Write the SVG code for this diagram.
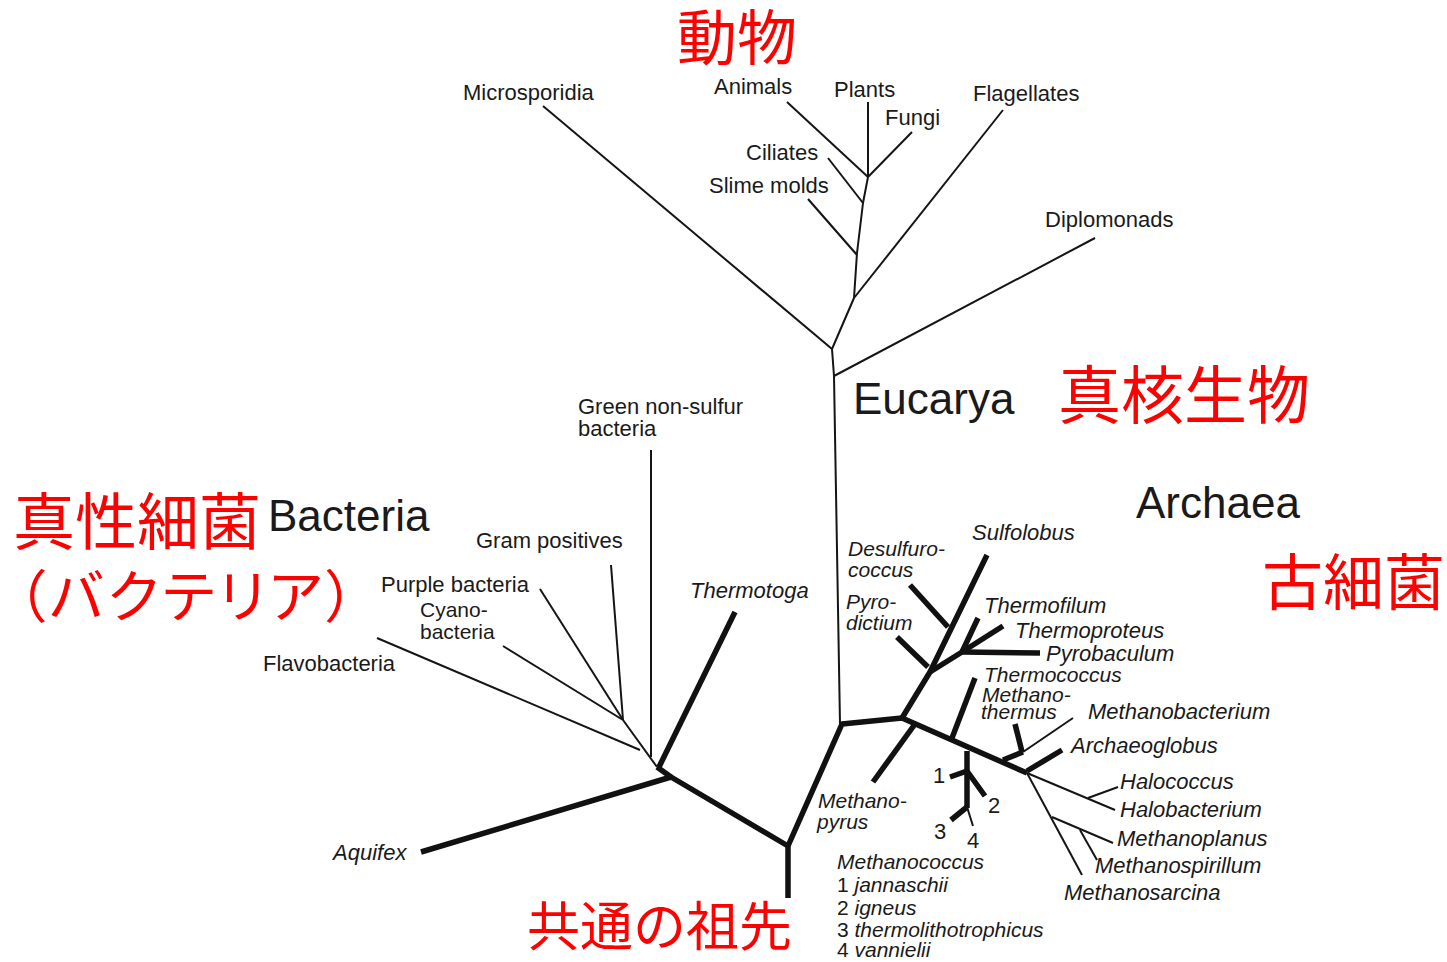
<svg xmlns="http://www.w3.org/2000/svg" width="1447" height="962" viewBox="0 0 1447 962">
<style>
  .thin{fill:none;stroke:#151515;stroke-width:2;stroke-linejoin:round}
  .thick{fill:none;stroke:#111;stroke-width:5.5;stroke-linejoin:round}
  .lb{font-family:"Liberation Sans",Arial,sans-serif;font-size:22px;fill:#1a1a1a}
  .sm{font-size:21px}
  .it{font-style:italic}
  .big{font-family:"Liberation Sans",Arial,sans-serif;font-size:44px;fill:#1a1a1a}
  .jp{font-family:"Noto Sans CJK JP","Noto Sans CJK SC",sans-serif;fill:#ff0000}
  .palt{font-feature-settings:"palt" 1;letter-spacing:4px}
</style>
<rect width="1447" height="962" fill="#ffffff"/>
<g id="connectors">
  <path class="thick" d="M788,898 L788,846 L671,777 L421,852"/>
  <path class="thick" d="M671,777 L657,767"/>
  <path class="thick" d="M659,767 L735,612"/>
  <path class="thick" d="M788,846 L842,724 L902,718 L1027,773"/>
  <path class="thick" d="M902,718 L930,672 L987,555"/>
  <path class="thick" d="M910,585 L948,627"/>
  <path class="thick" d="M897,637 L928,667"/>
  <path class="thick" d="M930,672 L962,652 L978,618"/>
  <path class="thick" d="M962,652 L1003,626"/>
  <path class="thick" d="M962,652 L1040,653"/>
  <path class="thick" d="M952,738 L975,678"/>
  <path class="thick" d="M915,724 L873,782"/>
  <path class="thick" d="M967,751 L967,808"/>
  <path class="thick" d="M950,777 L967,771 L985,796"/>
  <path class="thick" d="M951,820 L967,807"/>
  <path class="thick" d="M1015,724 L1022,752"/>
  <path class="thick" d="M1003,760 L1023,752"/>
  <path class="thick" d="M1027,771 L1062,750"/>
  <path class="thin" d="M967,807 L973,826"/>
  <path class="thin" d="M1023,752 L1073,718"/>
  <path class="thin" d="M651,757 L651,450"/>
  <path class="thin" d="M657,767 L623,720"/>
  <path class="thin" d="M377,638 L640,750"/>
  <path class="thin" d="M623,720 L611,565"/>
  <path class="thin" d="M623,720 L540,589"/>
  <path class="thin" d="M623,720 L503,646"/>
  <path class="thin" d="M840,724 L834,376 L832,349"/>
  <path class="thin" d="M834,376 L1095,238"/>
  <path class="thin" d="M832,349 L543,106"/>
  <path class="thin" d="M832,349 L854,298 L857,253 L863,203 L868,177"/>
  <path class="thin" d="M854,298 L1003,110"/>
  <path class="thin" d="M808,199 L857,255"/>
  <path class="thin" d="M828,158 L863,203"/>
  <path class="thin" d="M787,102 L868,177"/>
  <path class="thin" d="M868,102 L868,177"/>
  <path class="thin" d="M912,132 L868,177"/>
  <path class="thin" d="M1027,773 L1115,810"/>
  <path class="thin" d="M1088,798 L1118,787"/>
  <path class="thin" d="M1027,773 L1082,875"/>
  <path class="thin" d="M1052,817 L1113,843"/>
  <path class="thin" d="M1080,830 L1097,860"/>
</g>

<g id="jp-animals"><text class="jp" x="677" y="60" font-size="60">動物</text></g>
<g id="jp-eucarya"><text class="jp" x="1058" y="418" font-size="63">真核生物</text></g>
<g id="jp-bacteria">
  <text class="jp" x="13" y="545" font-size="62">真性細菌</text>
  <text class="jp palt" x="17" y="617" font-size="57">（バクテリア）</text>
</g>
<g id="jp-archaea"><text class="jp" x="1262" y="605" font-size="61">古細菌</text></g>
<g id="jp-ancestor"><text class="jp" x="527" y="946" font-size="53">共通の祖先</text></g>

<g id="eucarya"><text class="big" x="853" y="414">Eucarya</text></g>
<g id="bacteria"><text class="big" x="268" y="531" font-size="41">Bacteria</text></g>
<g id="archaea"><text class="big" x="1136" y="518">Archaea</text></g>

<g id="microsporidia"><text class="lb" x="463" y="100">Microsporidia</text></g>
<g id="animals"><text class="lb" x="714" y="94">Animals</text></g>
<g id="plants"><text class="lb" x="834" y="97">Plants</text></g>
<g id="fungi"><text class="lb" x="885" y="125">Fungi</text></g>
<g id="flagellates"><text class="lb" x="973" y="101">Flagellates</text></g>
<g id="ciliates"><text class="lb" x="746" y="160">Ciliates</text></g>
<g id="slime-molds"><text class="lb" x="709" y="193">Slime molds</text></g>
<g id="diplomonads"><text class="lb" x="1045" y="227">Diplomonads</text></g>

<g id="green-non-sulfur"><text class="lb" x="578" y="414">Green non-sulfur</text><text class="lb" x="578" y="436">bacteria</text></g>
<g id="gram-positives"><text class="lb" x="476" y="548">Gram positives</text></g>
<g id="purple-bacteria"><text class="lb" x="381" y="592">Purple bacteria</text></g>
<g id="cyanobacteria"><text class="lb sm" x="420" y="617">Cyano-</text><text class="lb sm" x="420" y="639">bacteria</text></g>
<g id="flavobacteria"><text class="lb" x="263" y="671">Flavobacteria</text></g>
<g id="thermotoga"><text class="lb it" x="690" y="598">Thermotoga</text></g>
<g id="aquifex"><text class="lb it" x="333" y="860">Aquifex</text></g>

<g id="desulfurococcus"><text class="lb it sm" x="848" y="556">Desulfuro-</text><text class="lb it sm" x="848" y="577">coccus</text></g>
<g id="sulfolobus"><text class="lb it" x="972" y="540">Sulfolobus</text></g>
<g id="pyrodictium"><text class="lb it sm" x="846" y="609">Pyro-</text><text class="lb it sm" x="846" y="630">dictium</text></g>
<g id="thermofilum"><text class="lb it" x="984" y="613">Thermofilum</text></g>
<g id="thermoproteus"><text class="lb it" x="1015" y="638">Thermoproteus</text></g>
<g id="pyrobaculum"><text class="lb it" x="1046" y="661">Pyrobaculum</text></g>
<g id="thermococcus"><text class="lb it sm" x="984" y="682">Thermococcus</text></g>
<g id="methanothermus"><text class="lb it sm" x="982" y="702">Methano-</text><text class="lb it sm" x="981" y="719">thermus</text></g>
<g id="methanobacterium"><text class="lb it" x="1088" y="719">Methanobacterium</text></g>
<g id="archaeoglobus"><text class="lb it" x="1071" y="753">Archaeoglobus</text></g>
<g id="halococcus"><text class="lb it" x="1120" y="789">Halococcus</text></g>
<g id="halobacterium"><text class="lb it" x="1120" y="817">Halobacterium</text></g>
<g id="methanoplanus"><text class="lb it" x="1117" y="846">Methanoplanus</text></g>
<g id="methanospirillum"><text class="lb it" x="1095" y="873">Methanospirillum</text></g>
<g id="methanosarcina"><text class="lb it" x="1064" y="900">Methanosarcina</text></g>
<g id="methanopyrus"><text class="lb it sm" x="818" y="808">Methano-</text><text class="lb it sm" x="817" y="829">pyrus</text></g>
<g id="methanococcus-numbers">
  <text class="lb" x="933" y="783">1</text>
  <text class="lb" x="988" y="813">2</text>
  <text class="lb" x="934" y="839">3</text>
  <text class="lb" x="967" y="848">4</text>
</g>
<g id="methanococcus-legend">
  <text class="lb it sm" x="837" y="869">Methanococcus</text>
  <text class="lb sm" x="837" y="892">1 <tspan class="it">jannaschii</tspan></text>
  <text class="lb sm" x="837" y="915">2 <tspan class="it">igneus</tspan></text>
  <text class="lb sm" x="837" y="937">3 <tspan class="it">thermolithotrophicus</tspan></text>
  <text class="lb sm" x="837" y="957">4 <tspan class="it">vannielii</tspan></text>
</g>
</svg>
